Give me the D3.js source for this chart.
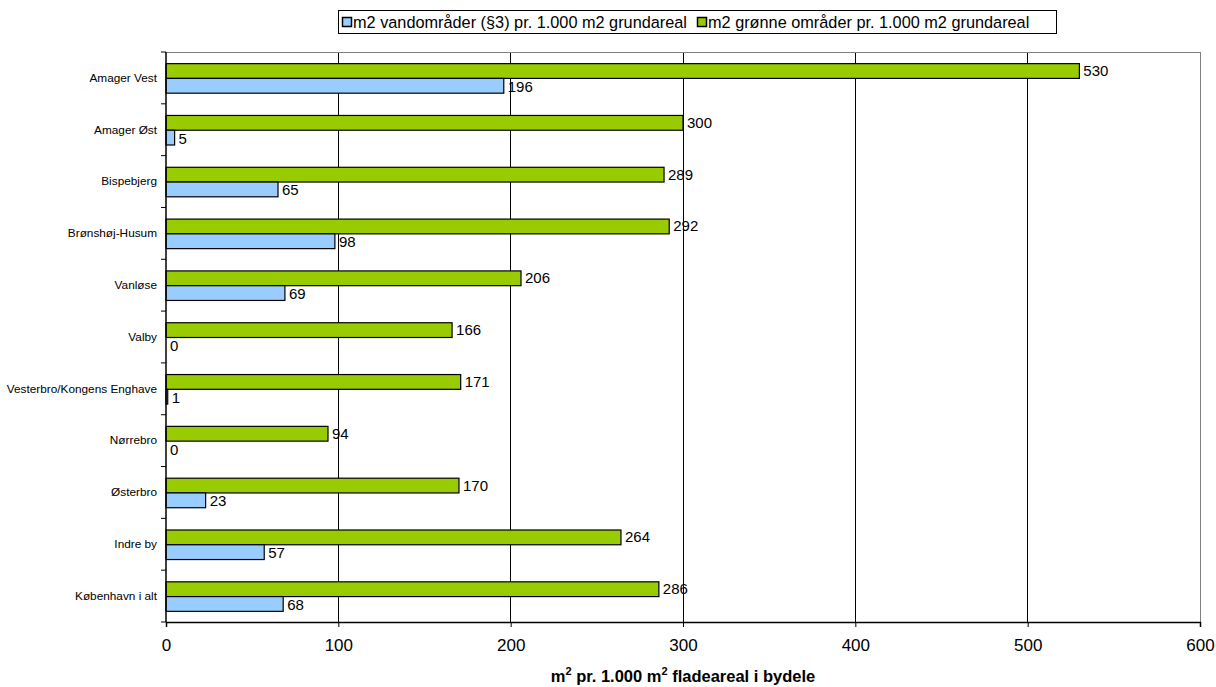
<!DOCTYPE html>
<html><head><meta charset="utf-8">
<script src="https://cdn.jsdelivr.net/npm/d3@7"></script>
<style>body{margin:0;background:#fff}svg{display:block}</style>
</head><body>
<svg id="c" width="1216" height="687"></svg>
<script>
const categories = ["Amager Vest","Amager Øst","Bispebjerg","Brønshøj-Husum","Vanløse","Valby","Vesterbro/Kongens Enghave","Nørrebro","Østerbro","Indre by","København i alt"];
const greenValues = [530,300,289,292,206,166,171,94,170,264,286];
const blueValues = [196,5,65,98,69,0,1,0,23,57,68];
const xTicks = [0,100,200,300,400,500,600];
const seriesNames = ["m2 vandområder (§3) pr. 1.000 m2 grundareal","m2 grønne områder pr. 1.000 m2 grundareal"];

const font = "'Liberation Sans',Arial,sans-serif";
const svg = d3.select("#c");
const L=166,R=1200,T=52,B=622;
const x = d3.scaleLinear().domain([0,600]).range([L,R]);
const y = d3.scaleBand().domain(categories).range([T,B]);
const bw = y.bandwidth();
const bh = bw*0.285;

// grid
svg.append("g").selectAll("line").data(xTicks.slice(1)).join("line")
  .attr("x1",d=>x(d)).attr("x2",d=>x(d)).attr("y1",T).attr("y2",B)
  .attr("stroke",d=>d===600?"#808080":"#000").attr("stroke-width",1).attr("shape-rendering","crispEdges");
svg.append("line").attr("x1",L).attr("x2",R).attr("y1",T).attr("y2",T).attr("stroke","#808080").attr("shape-rendering","crispEdges");

const data = categories.map((c,i)=>({c,g:greenValues[i],b:blueValues[i]}));
const grp = svg.append("g");
data.forEach(d=>{
  const y0 = y(d.c)+bw/2-bh+0.5;
  grp.append("rect").attr("x",x(0)).attr("y",y0).attr("width",x(d.g)-x(0)).attr("height",bh)
    .attr("fill","#99CC00").attr("stroke","#000").attr("stroke-width",1.2);
  grp.append("rect").attr("x",x(0)).attr("y",y0+bh).attr("width",x(d.b)-x(0)).attr("height",bh)
    .attr("fill","#99CCFF").attr("stroke","#000").attr("stroke-width",1.2);
  grp.append("text").attr("x",x(d.g)+4).attr("y",y0+bh/2+5).text(d.g)
    .attr("font-family",font).attr("font-size",15).attr("fill","#000");
  grp.append("text").attr("x",x(d.b)+4).attr("y",y0+bh*1.5+6).text(d.b)
    .attr("font-family",font).attr("font-size",15).attr("fill","#000");
});

// y axis
const ya = svg.append("g").attr("transform",`translate(${L},0)`)
  .call(d3.axisLeft(y).tickSize(0).tickPadding(9));
ya.select(".domain").remove();
ya.selectAll("text").attr("font-family",font).attr("font-size",11.8).attr("fill","#000");
svg.append("line").attr("x1",L).attr("x2",L).attr("y1",T).attr("y2",B).attr("stroke","#000").attr("stroke-width",1.5);
svg.append("g").selectAll("line").data(d3.range(categories.length+1)).join("line")
  .attr("x1",L-5).attr("x2",L).attr("y1",i=>T+i*bw).attr("y2",i=>T+i*bw).attr("stroke","#000");

// x axis
const xa = svg.append("g").attr("transform",`translate(0,${B})`)
  .call(d3.axisBottom(x).tickValues(xTicks).tickSize(5).tickPadding(12));
xa.select(".domain").attr("stroke","#000").attr("stroke-width",1.5);
xa.selectAll("line").attr("stroke","#000");
xa.selectAll("text").attr("font-family",font).attr("font-size",17).attr("fill","#000");

// axis title
const t = svg.append("text").attr("x",683).attr("y",682).attr("text-anchor","middle")
  .attr("font-family",font).attr("font-weight","bold").attr("font-size",16.5).attr("fill","#000");
t.append("tspan").text("m");
t.append("tspan").text("2").attr("dy",-7).attr("font-size",11);
t.append("tspan").text(" pr. 1.000 m").attr("dy",7);
t.append("tspan").text("2").attr("dy",-7).attr("font-size",11);
t.append("tspan").text(" fladeareal i bydele").attr("dy",7);

// legend
const lg = svg.append("g");
lg.append("rect").attr("x",338.5).attr("y",10.5).attr("width",718).attr("height",23).attr("fill","#fff").attr("stroke","#000");
const colors = ["#99CCFF","#99CC00"];
const lx = [342,697];
seriesNames.forEach((n,i)=>{
  lg.append("rect").attr("x",lx[i]+0.5).attr("y",17.5).attr("width",9).attr("height",9).attr("fill",colors[i]).attr("stroke","#000").attr("stroke-width",1.5);
  lg.append("text").attr("x",lx[i]+11).attr("y",28).text(n).attr("font-family",font).attr("font-size",16.3).attr("fill","#000");
});
</script>
</body></html>
